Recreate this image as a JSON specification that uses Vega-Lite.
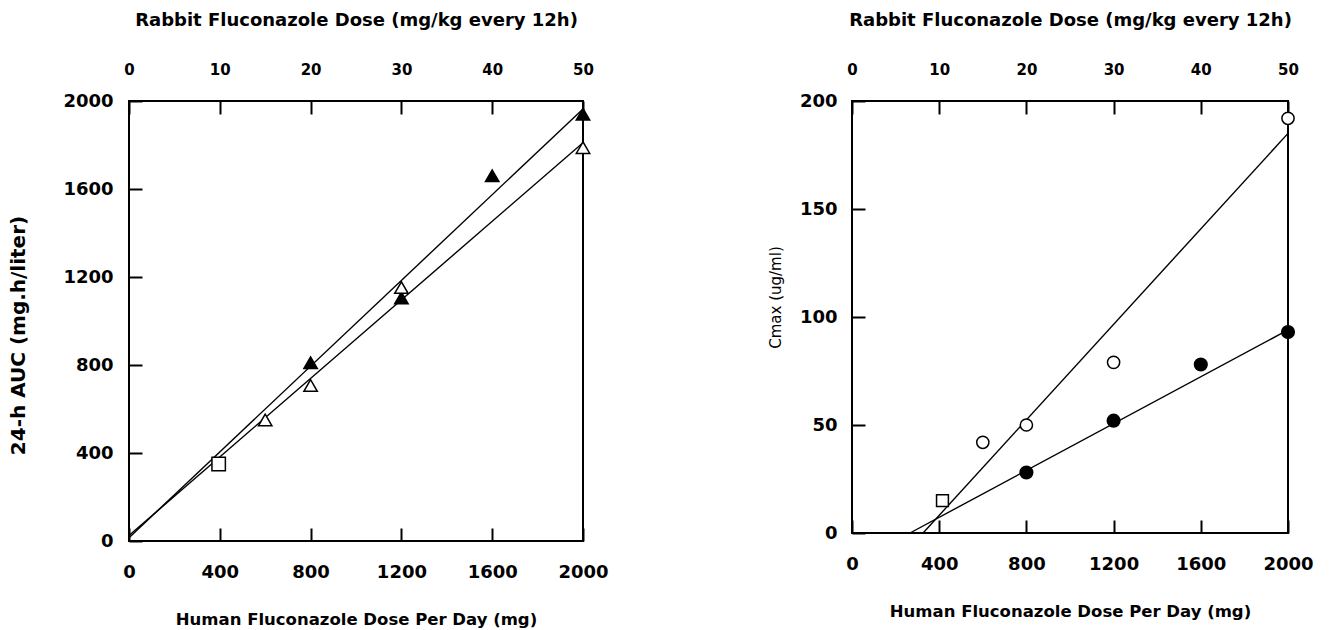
{
  "$schema": "https://vega.github.io/schema/vega-lite/v6.json",
  "padding": {"left": 7, "top": 10, "right": 5, "bottom": 0},
  "background": "white",
  "bounds": "flush",
  "spacing": 269,
  "resolve": {"scale": {"shape": "independent", "fill": "independent", "size": "independent"}},
  "config": {
    "view": {"stroke": "black", "strokeWidth": 2},
    "axis": {
      "grid": false,
      "domain": false,
      "tickColor": "black",
      "tickWidth": 2,
      "tickSize": -13,
      "format": "d",
      "labelFont": "DejaVu Sans",
      "labelFontWeight": "bold",
      "labelFontSize": 18,
      "labelColor": "black",
      "labelFlush": false,
      "labelOverlap": false,
      "titleFont": "DejaVu Sans",
      "titleFontWeight": "bold",
      "titleFontSize": 16.5,
      "titleColor": "black"
    }
  },
  "hconcat": [
    {
      "width": 454,
      "height": 440,
      "layer": [
        {
          "data": {"values": [
            {"series": "filled", "dose": 0, "value": 15},
            {"series": "filled", "dose": 2000, "value": 1964},
            {"series": "open", "dose": 0, "value": 25},
            {"series": "open", "dose": 2000, "value": 1810}
          ]},
          "mark": {"type": "line", "color": "black", "strokeWidth": 1.4},
          "encoding": {
            "x": {"field": "dose", "type": "quantitative", "scale": {"domain": [0, 2000], "nice": false},
                  "axis": {"orient": "bottom", "values": [0, 400, 800, 1200, 1600, 2000], "labelPadding": 35, "titlePadding": 30, "title": "Human Fluconazole Dose Per Day (mg)"}},
            "y": {"field": "value", "type": "quantitative", "scale": {"domain": [0, 2000], "nice": false},
                  "axis": {"values": [0, 400, 800, 1200, 1600, 2000], "labelPadding": 29, "titlePadding": 34, "titleFontSize": 20, "titleY": 234, "title": "24-h AUC (mg.h/liter)"}},
            "detail": {"field": "series"}
          }
        },
        {
          "data": {"values": [
            {"series": "filled", "dose": 800, "value": 810},
            {"series": "filled", "dose": 1200, "value": 1105},
            {"series": "filled", "dose": 1600, "value": 1660},
            {"series": "filled", "dose": 2000, "value": 1940},
            {"series": "open", "dose": 600, "value": 550},
            {"series": "open", "dose": 800, "value": 707},
            {"series": "open", "dose": 1200, "value": 1152},
            {"series": "open", "dose": 2000, "value": 1788},
            {"series": "square", "dose": 395, "value": 350}
          ]},
          "mark": {"type": "point", "filled": true, "stroke": "black", "strokeWidth": 1.5, "opacity": 1, "size": 180},
          "encoding": {
            "x": {"field": "dose", "type": "quantitative", "scale": {"domain": [0, 2000], "nice": false},
                  "axis": {"orient": "top", "values": [0, 400, 800, 1200, 1600, 2000], "labelExpr": "datum.value / 40", "labelFontSize": 15, "labelPadding": 37, "titlePadding": 33, "titleFontSize": 18, "title": "Rabbit Fluconazole Dose (mg/kg every 12h)"}},
            "y": {"field": "value", "type": "quantitative", "scale": {"domain": [0, 2000], "nice": false},
                  "axis": {"values": [0, 400, 800, 1200, 1600, 2000], "labelPadding": 29, "titlePadding": 34, "titleFontSize": 20, "titleY": 234, "title": "24-h AUC (mg.h/liter)"}},
            "shape": {"field": "series", "type": "nominal", "scale": {"domain": ["filled", "open", "square"], "range": ["triangle-up", "triangle-up", "square"]}, "legend": null},
            "fill": {"field": "series", "type": "nominal", "scale": {"domain": ["filled", "open", "square"], "range": ["black", "white", "white"]}, "legend": null}
          }
        }
      ],
      "resolve": {"axis": {"x": "independent"}}
    },
    {
      "width": 436,
      "height": 432,
      "layer": [
        {
          "data": {"values": [
            {"series": "open", "dose": 326, "value": 0},
            {"series": "open", "dose": 2000, "value": 185},
            {"series": "filled", "dose": 266, "value": 0},
            {"series": "filled", "dose": 2000, "value": 94}
          ]},
          "mark": {"type": "line", "color": "black", "strokeWidth": 1.4},
          "encoding": {
            "x": {"field": "dose", "type": "quantitative", "scale": {"domain": [0, 2000], "nice": false},
                  "axis": {"orient": "bottom", "values": [0, 400, 800, 1200, 1600, 2000], "labelPadding": 35, "titlePadding": 30, "title": "Human Fluconazole Dose Per Day (mg)"}},
            "y": {"field": "value", "type": "quantitative", "scale": {"domain": [0, 200], "nice": false},
                  "axis": {"values": [0, 50, 100, 150, 200], "labelPadding": 28, "titlePadding": 16, "titleFontSize": 15, "titleFontWeight": "normal", "titleY": 196, "title": "Cmax (ug/ml)"}},
            "detail": {"field": "series"}
          }
        },
        {
          "data": {"values": [
            {"series": "open", "dose": 600, "value": 42},
            {"series": "open", "dose": 800, "value": 50},
            {"series": "open", "dose": 1200, "value": 79},
            {"series": "open", "dose": 2000, "value": 192},
            {"series": "filled", "dose": 800, "value": 28},
            {"series": "filled", "dose": 1200, "value": 52},
            {"series": "filled", "dose": 1600, "value": 78},
            {"series": "filled", "dose": 2000, "value": 93},
            {"series": "square", "dose": 415, "value": 15}
          ]},
          "mark": {"type": "point", "filled": true, "stroke": "black", "strokeWidth": 1.5, "opacity": 1},
          "encoding": {
            "x": {"field": "dose", "type": "quantitative", "scale": {"domain": [0, 2000], "nice": false},
                  "axis": {"orient": "top", "values": [0, 400, 800, 1200, 1600, 2000], "labelExpr": "datum.value / 40", "labelFontSize": 15, "labelPadding": 37, "titlePadding": 33, "titleFontSize": 18, "title": "Rabbit Fluconazole Dose (mg/kg every 12h)"}},
            "y": {"field": "value", "type": "quantitative", "scale": {"domain": [0, 200], "nice": false},
                  "axis": {"values": [0, 50, 100, 150, 200], "labelPadding": 28, "titlePadding": 16, "titleFontSize": 15, "titleFontWeight": "normal", "titleY": 196, "title": "Cmax (ug/ml)"}},
            "shape": {"field": "series", "type": "nominal", "scale": {"domain": ["filled", "open", "square"], "range": ["circle", "circle", "square"]}, "legend": null},
            "fill": {"field": "series", "type": "nominal", "scale": {"domain": ["filled", "open", "square"], "range": ["black", "white", "white"]}, "legend": null},
            "size": {"field": "series", "type": "nominal", "scale": {"domain": ["filled", "open", "square"], "range": [160, 140, 60]}, "legend": null}
          }
        }
      ],
      "resolve": {"axis": {"x": "independent"}}
    }
  ]
}
